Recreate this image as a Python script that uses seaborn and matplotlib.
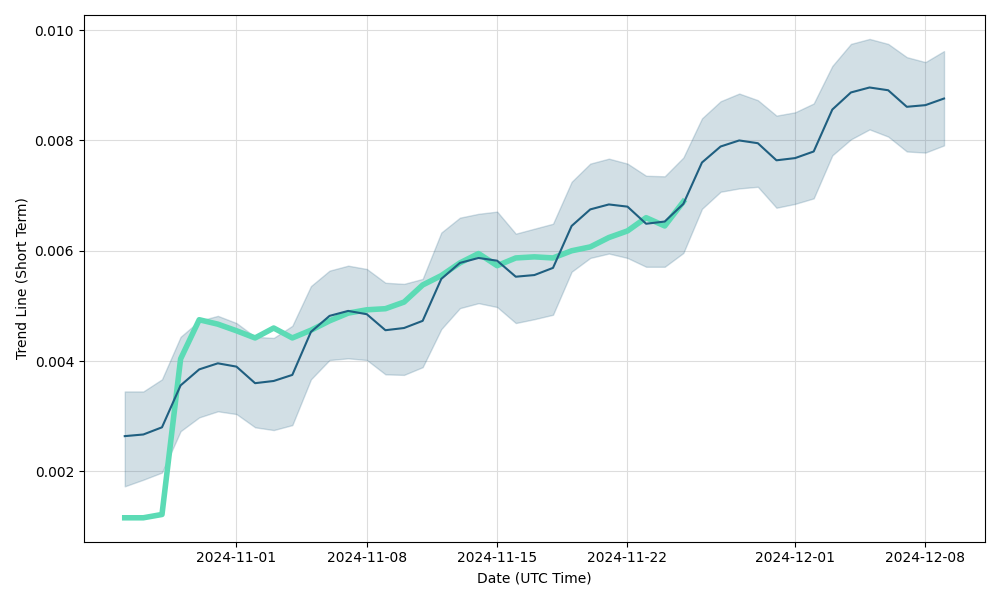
import matplotlib
matplotlib.use("Agg")
import matplotlib.pyplot as plt
import numpy as np
import pandas as pd
import seaborn as sns

dates = pd.date_range("2024-10-26", "2024-12-09", freq="D")

trend_mean = [
    0.00264, 0.00267, 0.00280, 0.00356, 0.00385, 0.00396, 0.00390, 0.00360,
    0.00364, 0.00375, 0.00453, 0.00482, 0.00491, 0.00485, 0.00456, 0.00460,
    0.00473, 0.00549, 0.00578, 0.00587, 0.00582, 0.00553, 0.00556, 0.00569,
    0.00645, 0.00675, 0.00684, 0.00680, 0.00649, 0.00653, 0.00685, 0.00760,
    0.00789, 0.00800, 0.00795, 0.00764, 0.00768, 0.00780, 0.00856, 0.00887,
    0.00896, 0.00891, 0.00861, 0.00864, 0.00876,
]
trend_upper = [
    0.00345, 0.00345, 0.00367, 0.00444, 0.00473, 0.00482, 0.00469, 0.00444,
    0.00442, 0.00464, 0.00536, 0.00564, 0.00573, 0.00567, 0.00542, 0.00540,
    0.00549, 0.00633, 0.00660, 0.00667, 0.00671, 0.00631, 0.00640, 0.00649,
    0.00725, 0.00758, 0.00767, 0.00758, 0.00736, 0.00735, 0.00769, 0.00840,
    0.00871, 0.00885, 0.00873, 0.00845, 0.00851, 0.00867, 0.00935, 0.00975,
    0.00984, 0.00975, 0.00951, 0.00942, 0.00962,
]
trend_lower = [
    0.00173, 0.00185, 0.00198, 0.00273, 0.00298, 0.00309, 0.00304, 0.00280,
    0.00275, 0.00284, 0.00367, 0.00402, 0.00405, 0.00402, 0.00376, 0.00375,
    0.00389, 0.00458, 0.00496, 0.00505, 0.00498, 0.00469, 0.00476, 0.00484,
    0.00562, 0.00587, 0.00595, 0.00587, 0.00571, 0.00571, 0.00596, 0.00676,
    0.00707, 0.00713, 0.00716, 0.00678, 0.00685, 0.00695, 0.00773, 0.00802,
    0.00820, 0.00807, 0.00780, 0.00778, 0.00791,
]
actual = [
    0.00116, 0.00116, 0.00122, 0.00404, 0.00475, 0.00467, 0.00455, 0.00442,
    0.00460, 0.00442, 0.00456, 0.00473, 0.00487, 0.00493, 0.00495, 0.00507,
    0.00538, 0.00555, 0.00578, 0.00595, 0.00573, 0.00587, 0.00589, 0.00587,
    0.00600, 0.00607, 0.00624, 0.00636, 0.00660, 0.00645, 0.00689,
]

trend_df = pd.DataFrame(
    {"date": dates, "mean": trend_mean, "upper": trend_upper, "lower": trend_lower}
)
actual_df = pd.DataFrame({"date": dates[: len(actual)], "value": actual})

band_color = "#1f5f80"
green = "#5cdbb5"

fig, ax = plt.subplots(figsize=(10, 6))

ax.fill_between(
    trend_df["date"], trend_df["lower"], trend_df["upper"],
    color=band_color, alpha=0.2,
)
sns.lineplot(data=actual_df, x="date", y="value", color=green, linewidth=4, ax=ax)
sns.lineplot(data=trend_df, x="date", y="mean", color=band_color, linewidth=1.5, ax=ax)

ax.grid(True, color="#dddddd", linewidth=0.8)
ax.set_axisbelow(True)
ax.set_xlabel("Date (UTC Time)")
ax.set_ylabel("Trend Line (Short Term)")

plt.tight_layout()
plt.savefig("out.png", dpi=100)
plt.close()
